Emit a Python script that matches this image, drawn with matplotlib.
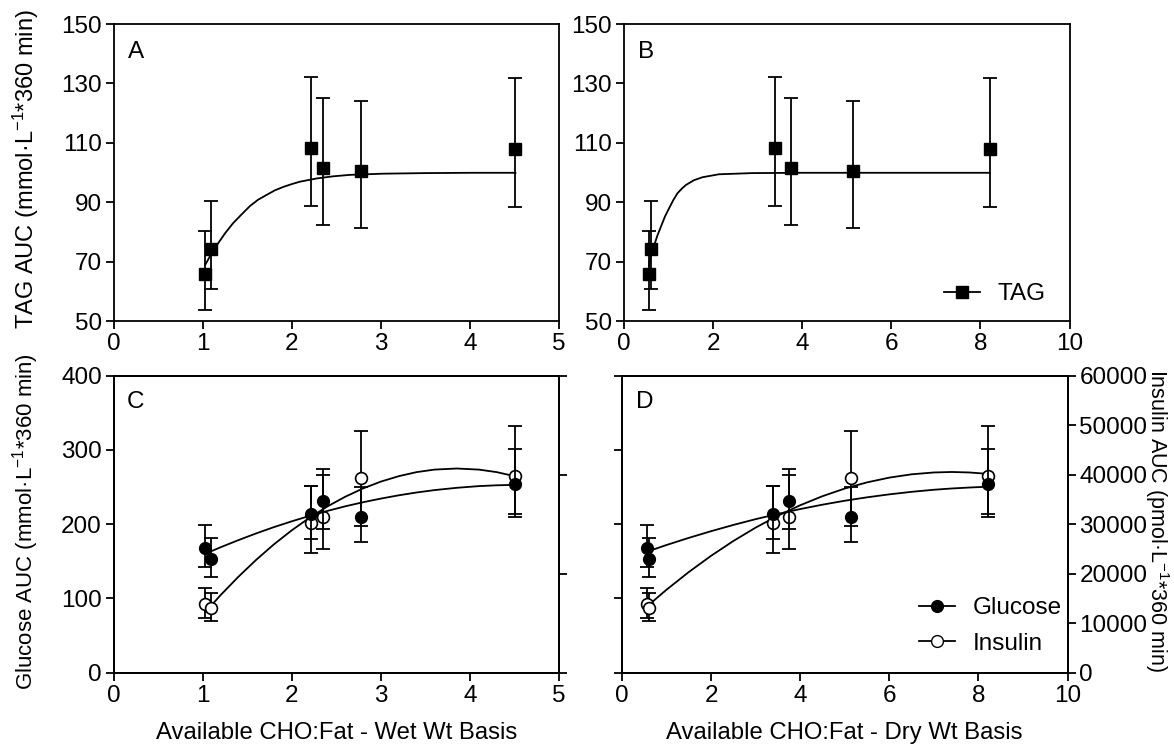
import numpy as np
import matplotlib.pyplot as plt
from matplotlib.lines import Line2D

plt.rcParams['font.family'] = ['Liberation Sans', 'DejaVu Sans']
plt.rcParams['mathtext.default'] = 'regular'

# available CHO:fat ratio of the six meals
wet_x = [1.03, 1.09, 2.21, 2.35, 2.78, 4.51]
dry_x = [0.56, 0.60, 3.39, 3.74, 5.13, 8.21]

# TAG AUC (mean, lower and upper end of error bar)
tag = [65.9, 74.1, 108.4, 101.4, 100.4, 107.9]
tag_lo = [53.8, 60.8, 88.6, 82.3, 81.3, 88.3]
tag_hi = [80.3, 90.5, 132.0, 125.1, 124.1, 131.7]

# glucose AUC (mmol/L*360 min)
glucose = [168.5, 152.9, 213.5, 231.0, 209.9, 254.0]
glucose_lo = [142.0, 129.4, 180.7, 193.3, 176.2, 214.0]
glucose_hi = [199.0, 181.2, 251.7, 265.6, 250.4, 301.2]

# insulin AUC (pmol/L*360 min)
insulin = [13950, 13000, 30200, 31550, 39250, 39700]
insulin_lo = [11130, 10450, 24270, 25080, 29550, 31550]
insulin_hi = [17190, 16120, 37750, 41190, 48890, 49890]

# fitted curves
tag_fit_wet_x = [1.03, 1.10, 1.16, 1.25, 1.34, 1.44, 1.53, 1.62, 1.72, 1.81,
                 1.91, 2.00, 2.09, 2.28, 2.46, 2.65, 3.02, 3.50, 4.00, 4.51]
tag_fit_wet_y = [69.0, 72.8, 75.6, 79.5, 82.9, 86.0, 88.7, 90.8, 92.5, 94.0,
                 95.2, 96.1, 96.9, 98.0, 98.7, 99.2, 99.6, 99.8, 99.9, 99.9]
tag_fit_dry_x = [0.56, 0.58, 0.63, 0.68, 0.75, 0.83, 0.92, 1.02, 1.11, 1.20,
                 1.30, 1.39, 1.57, 1.76, 2.13, 2.88, 4.00, 5.50, 7.00, 8.21]
tag_fit_dry_y = [68.5, 70.5, 73.2, 75.6, 78.8, 81.8, 85.2, 88.2, 90.8, 93.0,
                 94.6, 95.8, 97.4, 98.4, 99.4, 99.8, 99.9, 99.9, 99.9, 99.9]

fit_wet_x = [1.03, 1.2, 1.4, 1.6, 1.8, 2.0, 2.2, 2.4, 2.6, 2.8, 3.0,
             3.2, 3.4, 3.6, 3.85, 4.1, 4.3, 4.51]
glu_fit_wet_y = [160.2, 168.9, 178.5, 187.6, 196.1, 203.9, 211.2, 217.9, 224.1, 229.6, 234.5,
                 238.9, 242.7, 245.9, 249.0, 251.3, 252.4, 253.0]
ins_fit_wet_y = [12250, 15660, 19370, 22800, 25940, 28770, 31320, 33590, 35550, 37230, 38610,
                 39700, 40520, 41030, 41250, 41030, 40520, 39660]

fit_dry_x = [0.56, 1.0, 1.5, 2.0, 2.5, 3.0, 3.5, 4.0, 4.5, 5.0, 5.5,
             6.0, 6.5, 7.0, 7.4, 7.8, 8.21]
glu_fit_dry_y = [163.0, 172.0, 181.6, 190.6, 199.0, 206.8, 213.9, 220.4, 226.3, 231.6, 236.2,
                 240.2, 243.6, 246.4, 248.1, 249.4, 250.5]
ins_fit_dry_y = [13380, 16770, 20340, 23620, 26610, 29310, 31720, 33830, 35660, 37200, 38450,
                 39410, 40080, 40450, 40550, 40450, 40170]

FS = 17.5
LW = 1.3


def style(ax):
    for s in ax.spines.values():
        s.set_linewidth(LW)
    ax.tick_params(direction='out', length=5.5, width=LW, labelsize=FS, pad=3)


def bars(ax, x, y, lo, hi):
    y = np.array(y)
    err = [y - np.array(lo), np.array(hi) - y]
    ax.errorbar(x, y, yerr=err, fmt='none', ecolor='black', elinewidth=LW,
                capsize=4.7, capthick=LW, zorder=2)


fig = plt.figure(figsize=(11.74, 7.51), dpi=100)
W = 445.5 / 1174
H = 297 / 751
axA = fig.add_axes([113.6 / 1174, 1 - 321 / 751, W, H])
axB = fig.add_axes([624 / 1174, 1 - 321 / 751, W, H])
axC = fig.add_axes([113.6 / 1174, 1 - 672.7 / 751, W, H])
axD = fig.add_axes([622 / 1174, 1 - 672.7 / 751, W, H])

# top panels: TAG
for ax, x, fx, fy, xmax, step, letter in [
        (axA, wet_x, tag_fit_wet_x, tag_fit_wet_y, 5, 1, 'A'),
        (axB, dry_x, tag_fit_dry_x, tag_fit_dry_y, 10, 2, 'B')]:
    bars(ax, x, tag, tag_lo, tag_hi)
    ax.plot(fx, fy, color='black', lw=LW, zorder=3)
    ax.plot(x, tag, 's', color='black', ms=8.2, zorder=4)
    ax.set_xlim(0, xmax)
    ax.set_ylim(50, 150)
    ax.set_xticks(np.arange(0, xmax + 1, step))
    ax.set_yticks([50, 70, 90, 110, 130, 150])
    style(ax)
    ax.text(0.05, 0.907, letter, transform=ax.transAxes, fontsize=17.5,
            ha='center', va='center')

axB.legend(handles=[Line2D([], [], color='black', marker='s', ms=8.2, lw=LW)],
           labels=['TAG'], frameon=False, fontsize=17.5, handlelength=1.5,
           handletextpad=0.7, borderpad=0.4, loc='center left',
           bbox_to_anchor=(922 / 1174, 1 - 294 / 751),
           bbox_transform=fig.transFigure)

# bottom panels: glucose and insulin
twins = []
for ax, x, fx, gy, iy, xmax, step, letter in [
        (axC, wet_x, fit_wet_x, glu_fit_wet_y, ins_fit_wet_y, 5, 1, 'C'),
        (axD, dry_x, fit_dry_x, glu_fit_dry_y, ins_fit_dry_y, 10, 2, 'D')]:
    axr = ax.twinx()
    twins.append(axr)
    bars(ax, x, glucose, glucose_lo, glucose_hi)
    bars(axr, x, insulin, insulin_lo, insulin_hi)
    ax.plot(fx, gy, color='black', lw=LW, zorder=3)
    axr.plot(fx, iy, color='black', lw=LW, zorder=3)
    axr.plot(x, insulin, 'o', mfc='white', mec='black', mew=1.2, ms=8.5, zorder=4)
    ax.plot(x, glucose, 'o', color='black', ms=8.5, zorder=4)
    ax.set_xlim(0, xmax)
    ax.set_ylim(0, 400)
    axr.set_ylim(0, 60000)
    ax.set_xticks(np.arange(0, xmax + 1, step))
    ax.set_yticks([0, 100, 200, 300, 400])
    style(ax)
    style(axr)
    ax.text(0.05, 0.912, letter, transform=ax.transAxes, fontsize=17.5,
            ha='center', va='center')
    ax.set_zorder(axr.get_zorder() + 1)
    ax.patch.set_visible(False)

axC_r, axD_r = twins
axC_r.set_yticks([0, 20000, 40000, 60000])
axC_r.set_yticklabels([])
axD.set_yticklabels([])
axD_r.set_yticks(np.arange(0, 60001, 10000))

axC.set_xlabel('Available CHO:Fat - Wet Wt Basis', fontsize=17.2, labelpad=11)
axD.set_xlabel('Available CHO:Fat - Dry Wt Basis', fontsize=17.2, labelpad=11)

fig.text(26 / 1174, 1 - 169 / 751, r'TAG AUC (mmol·L$^{-1}$*360 min)',
         rotation=90, fontsize=17, ha='center', va='center')
fig.text(26 / 1174, 1 - 522 / 751, r'Glucose AUC (mmol·L$^{-1}$*360 min)',
         rotation=90, fontsize=16, ha='center', va='center')
fig.text(1157 / 1174, 1 - 520 / 751, r'Insulin AUC (pmol·L$^{-1}$*360 min)',
         rotation=270, fontsize=15.5, ha='center', va='center')

axD.legend(handles=[Line2D([], [], color='black', marker='o', ms=8.5, lw=LW),
                    Line2D([], [], color='black', marker='o', mfc='white', ms=8.5, lw=LW)],
           labels=['Glucose', 'Insulin'], frameon=False, fontsize=17.5,
           handlelength=1.5, handletextpad=0.7, borderpad=0.4, labelspacing=0.55,
           loc='center left', bbox_to_anchor=(897 / 1174, 1 - 626 / 751),
           bbox_transform=fig.transFigure)

fig.savefig('out.png', dpi=100)
